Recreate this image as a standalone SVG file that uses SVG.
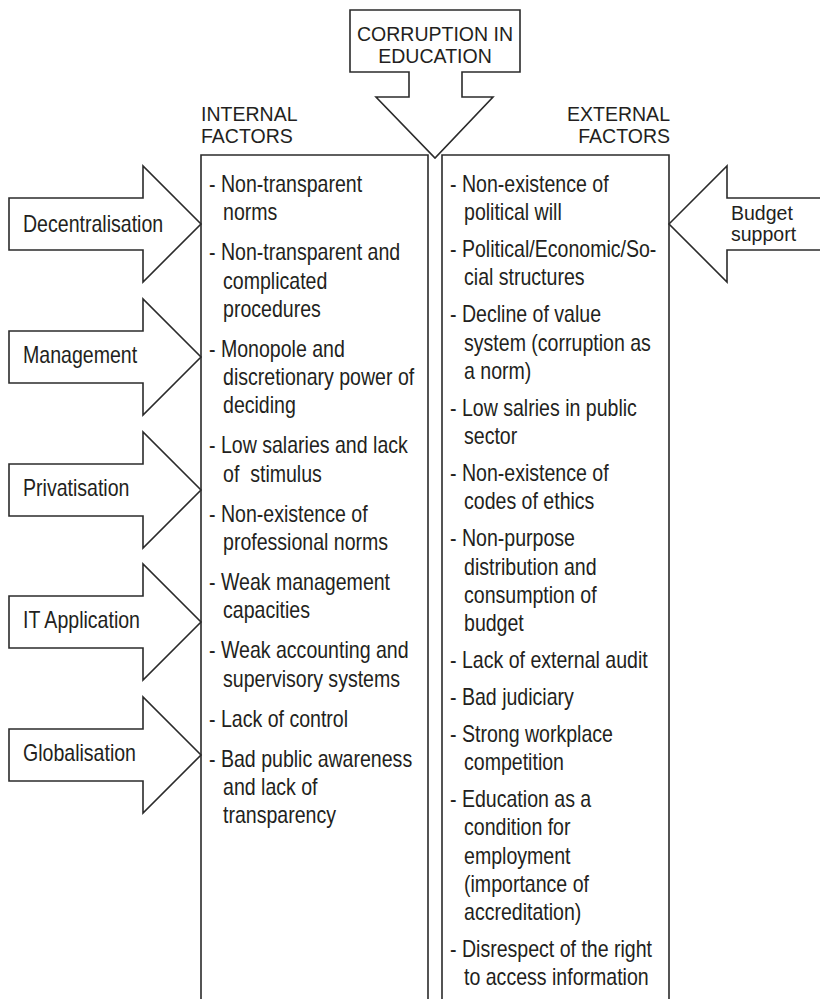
<svg xmlns="http://www.w3.org/2000/svg" width="820" height="999" viewBox="0 0 820 999">
<style>
.s{fill:#fff;stroke:#2b2b2b;stroke-width:1.6;stroke-linejoin:miter}
.t{font-family:"Liberation Sans",Arial,Helvetica,sans-serif;font-size:24px;fill:#231f20}
.h{font-family:"Liberation Sans",Arial,Helvetica,sans-serif;font-size:21px;fill:#231f20}
.m{text-anchor:middle}
.e{text-anchor:end}
</style>
<rect width="820" height="999" fill="#fff"/>

<g id="corruption-in-education">
<path class="s" d="M350,10 H520 V72 H462 V97 H493 L435,158 L376,97 H409 V72 H350 Z"/>
<g transform="translate(435,0) scale(0.93,1)">
<text class="h m" x="0" y="41">CORRUPTION IN</text>
<text class="h m" x="0" y="63">EDUCATION</text>
</g>
</g>

<g id="internal-factors">
<path class="s" d="M201,1010 V155 H428 V1010"/>
<g transform="translate(201,0) scale(0.93,1)">
<text class="h" x="0" y="121">INTERNAL</text>
<text class="h" x="0" y="143">FACTORS</text>
</g>
<g transform="translate(209,0) scale(0.815,1)">
<text class="t" x="0" y="192">- Non-transparent</text>
<text class="t" x="17.2" y="220.3">norms</text>
<text class="t" x="0" y="260.3">- Non-transparent and</text>
<text class="t" x="17.2" y="288.6">complicated</text>
<text class="t" x="17.2" y="316.9">procedures</text>
<text class="t" x="0" y="356.9">- Monopole and</text>
<text class="t" x="17.2" y="385.2">discretionary power of</text>
<text class="t" x="17.2" y="413.5">deciding</text>
<text class="t" x="0" y="453.5">- Low salaries and lack</text>
<text class="t" x="17.2" y="481.8">of&#160; stimulus</text>
<text class="t" x="0" y="521.8">- Non-existence of</text>
<text class="t" x="17.2" y="550.1">professional norms</text>
<text class="t" x="0" y="590.1">- Weak management</text>
<text class="t" x="17.2" y="618.4">capacities</text>
<text class="t" x="0" y="658.4">- Weak accounting and</text>
<text class="t" x="17.2" y="686.7">supervisory systems</text>
<text class="t" x="0" y="726.7">- Lack of control</text>
<text class="t" x="0" y="766.7">- Bad public awareness</text>
<text class="t" x="17.2" y="795">and lack of</text>
<text class="t" x="17.2" y="823.3">transparency</text>
</g>
</g>

<g id="external-factors">
<path class="s" d="M442,1010 V155 H669 V1010"/>
<g transform="translate(670,0) scale(0.93,1)">
<text class="h e" x="0" y="121">EXTERNAL</text>
<text class="h e" x="0" y="143">FACTORS</text>
</g>
<g transform="translate(450,0) scale(0.815,1)">
<text class="t" x="0" y="192">- Non-existence of</text>
<text class="t" x="17.2" y="220.3">political will</text>
<text class="t" x="0" y="257.2">- Political/Economic/So-</text>
<text class="t" x="17.2" y="285.5">cial structures</text>
<text class="t" x="0" y="322.4">- Decline of value</text>
<text class="t" x="17.2" y="350.7">system (corruption as</text>
<text class="t" x="17.2" y="379">a norm)</text>
<text class="t" x="0" y="415.9">- Low salries in public</text>
<text class="t" x="17.2" y="444.2">sector</text>
<text class="t" x="0" y="481.1">- Non-existence of</text>
<text class="t" x="17.2" y="509.4">codes of ethics</text>
<text class="t" x="0" y="546.3">- Non-purpose</text>
<text class="t" x="17.2" y="574.6">distribution and</text>
<text class="t" x="17.2" y="602.9">consumption of</text>
<text class="t" x="17.2" y="631.2">budget</text>
<text class="t" x="0" y="668.1">- Lack of external audit</text>
<text class="t" x="0" y="705">- Bad judiciary</text>
<text class="t" x="0" y="741.9">- Strong workplace</text>
<text class="t" x="17.2" y="770.2">competition</text>
<text class="t" x="0" y="807.1">- Education as a</text>
<text class="t" x="17.2" y="835.4">condition for</text>
<text class="t" x="17.2" y="863.7">employment</text>
<text class="t" x="17.2" y="892">(importance of</text>
<text class="t" x="17.2" y="920.3">accreditation)</text>
<text class="t" x="0" y="957.2">- Disrespect of the right</text>
<text class="t" x="17.2" y="985.5">to access information</text>
</g>
</g>

<g id="decentralisation">
<path class="s" d="M9,198 H143 V166 L201,224 L143,282 V250 H9 Z"/>
<text class="t" transform="translate(23,232) scale(0.815,1)">Decentralisation</text>
</g>
<g id="management">
<path class="s" d="M9,331 H143 V299 L201,357 L143,415 V383 H9 Z"/>
<text class="t" transform="translate(23,363) scale(0.815,1)">Management</text>
</g>
<g id="privatisation">
<path class="s" d="M9,464 H143 V432 L201,490 L143,548 V516 H9 Z"/>
<text class="t" transform="translate(23,496) scale(0.815,1)">Privatisation</text>
</g>
<g id="it-application">
<path class="s" d="M9,596 H143 V564 L201,622 L143,680 V648 H9 Z"/>
<text class="t" transform="translate(23,628) scale(0.815,1)">IT Application</text>
</g>
<g id="globalisation">
<path class="s" d="M9,729 H143 V697 L201,755 L143,813 V781 H9 Z"/>
<text class="t" transform="translate(23,761) scale(0.815,1)">Globalisation</text>
</g>

<g id="budget-support">
<path class="s" d="M669,224 L727,166 V198 H826 V250 H727 V282 Z"/>
<g transform="translate(731,0) scale(0.93,1)">
<text class="h" x="0" y="220">Budget</text>
<text class="h" x="0" y="241">support</text>
</g>
</g>

<g id="connectors"></g>
</svg>
